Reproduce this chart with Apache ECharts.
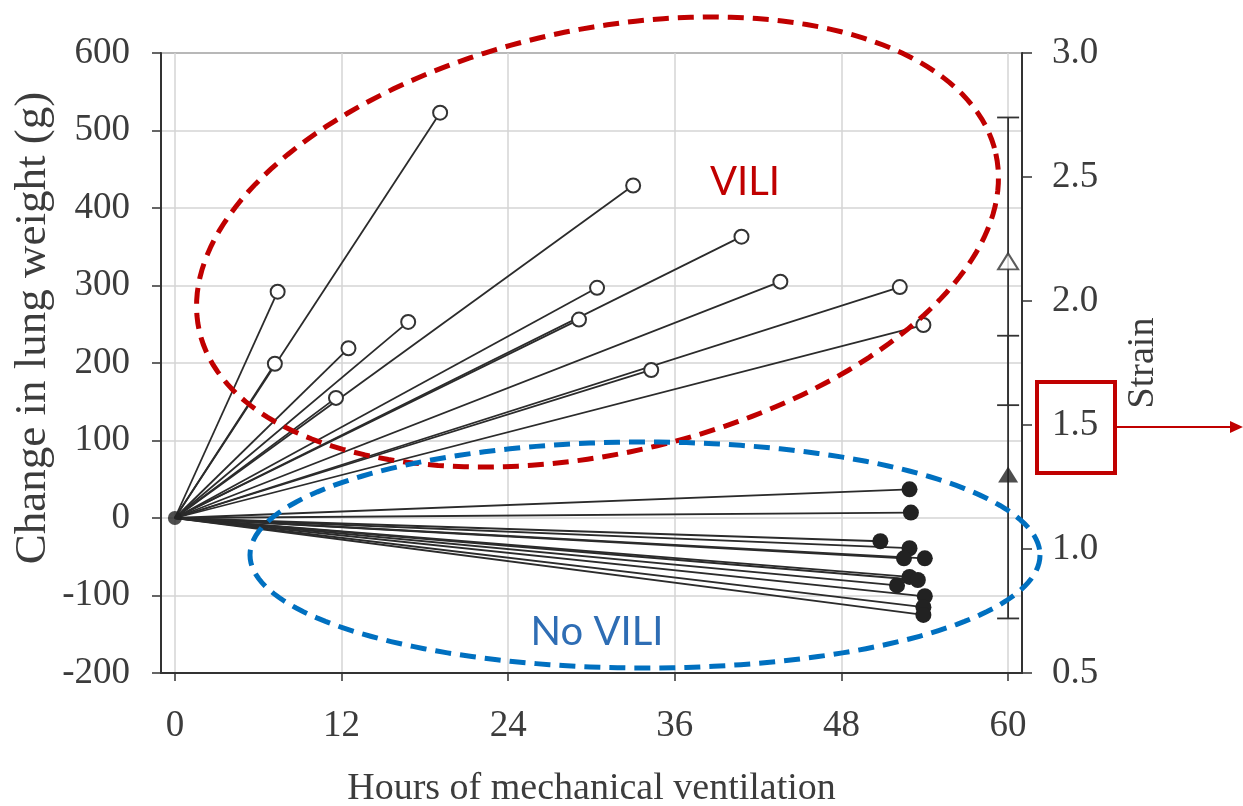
<!DOCTYPE html>
<html>
<head>
<meta charset="utf-8">
<script src="https://cdn.jsdelivr.net/npm/echarts@6/dist/echarts.min.js"></script>
<style>
  html, body { margin: 0; padding: 0; background: #fff; }
  #main { width: 1243px; height: 806px; }
</style>
</head>
<body>
<div id="main"></div>
<script>
// x ticks (hours)
const hourTicks = [0, 12, 24, 36, 48, 60];

// VILI animals: hours ventilated, change in lung weight (g)
const viliHours = [7.4, 7.2, 19.1, 12.5, 11.6, 16.8, 33.0, 30.4, 29.1, 40.8, 34.3, 43.6, 52.2, 53.9];
const viliGain = [292, 199, 523, 219, 155, 253, 429, 297, 256, 363, 191, 305, 298, 249];

// No VILI animals
const noViliHours = [52.9, 53.0, 50.8, 52.9, 52.5, 54.0, 52.9, 53.5, 52.0, 54.0, 53.9, 53.9];
const noViliGain = [37, 7, -30, -39, -52, -52, -76, -80, -87, -101, -115, -125];

// strain (right axis), mean and spread for each group
const strainGroups = ['VILI', 'No VILI'];
const strainMean = [2.16, 1.30];
const strainLow = [1.58, 0.72];
const strainHigh = [2.74, 1.86];
const strainHour = 60;

const chart = echarts.init(document.getElementById('main'), null, { renderer: 'canvas' });

const serif = 'Liberation Serif';
const axisColor = '#333';
const textColor = '#3c3c3c';

// one segment from the origin to each animal's last point
const segs = [];
viliHours.forEach((h, i) => segs.push({ coords: [[0, 0], [h, viliGain[i]]] }));
noViliHours.forEach((h, i) => segs.push({ coords: [[0, 0], [h, noViliGain[i]]] }));

// dashed ellipses drawn as closed polygons (annotation only)
function ellipsePts(cx, cy, a, b, deg) {
  const phi = deg * Math.PI / 180;
  const pts = [];
  for (let k = 0; k < 180; k++) {
    const t = k / 180 * Math.PI * 2;
    pts.push([
      cx + a * Math.cos(t) * Math.cos(phi) - b * Math.sin(t) * Math.sin(phi),
      cy + a * Math.cos(t) * Math.sin(phi) + b * Math.sin(t) * Math.cos(phi)
    ]);
  }
  return pts;
}

const option = {
  animation: false,
  grid: {
    left: 161,
    right: 221,
    top: 53,
    bottom: 133,
    show: true,
    borderColor: axisColor,
    borderWidth: 1.5,
    containLabel: false,
    outerBoundsMode: 'none'
  },
  xAxis: {
    type: 'value',
    min: -1,
    max: 61,
    name: 'Hours of mechanical ventilation',
    nameLocation: 'middle',
    nameGap: 97,
    nameTextStyle: { fontFamily: serif, fontSize: 38, color: textColor },
    axisLine: { onZero: false, lineStyle: { color: axisColor, width: 2 } },
    axisTick: { show: true, customValues: hourTicks, length: 8, inside: false, lineStyle: { color: axisColor, width: 1.5 } },
    axisLabel: { customValues: hourTicks, margin: 35, fontFamily: serif, fontSize: 37, color: textColor },
    splitLine: { show: true, lineStyle: { color: '#d4d4d4', width: 1.5 } }
  },
  yAxis: [{
    type: 'value',
    min: -200,
    max: 600,
    interval: 100,
    position: 'left',
    axisLine: { show: true, onZero: false, lineStyle: { color: axisColor, width: 2 } },
    axisTick: { show: true, length: 9, lineStyle: { color: axisColor, width: 1.5 } },
    axisLabel: { margin: 31, fontFamily: serif, fontSize: 37, color: textColor },
    splitLine: { show: true, lineStyle: { color: '#d4d4d4', width: 1.5 } }
  }, {
    type: 'value',
    min: 0.5,
    max: 3.0,
    interval: 0.5,
    position: 'right',
    name: 'Strain',
    nameLocation: 'middle',
    nameRotate: 90,
    nameGap: 102,
    nameTextStyle: { fontFamily: serif, fontSize: 38, color: textColor },
    axisLine: { show: true, onZero: false, lineStyle: { color: axisColor, width: 2 } },
    axisTick: { show: true, length: 10, lineStyle: { color: axisColor, width: 1.5 } },
    axisLabel: { margin: 30, fontFamily: serif, fontSize: 37, color: textColor, formatter: v => v.toFixed(1) },
    splitLine: { show: false }
  }],
  series: [{
    type: 'lines',
    coordinateSystem: 'cartesian2d',
    data: segs,
    lineStyle: { color: '#2b2b2b', width: 1.8, opacity: 1 },
    z: 2
  }, {
    type: 'scatter',
    name: 'VILI',
    data: viliHours.map((h, i) => [h, viliGain[i]]),
    symbol: 'circle',
    symbolSize: 14,
    itemStyle: { color: '#fff', borderColor: '#333', borderWidth: 2, opacity: 1 },
    z: 4
  }, {
    type: 'scatter',
    name: 'No VILI',
    data: noViliHours.map((h, i) => [h, noViliGain[i]]),
    symbol: 'circle',
    symbolSize: 16,
    itemStyle: { color: '#222', opacity: 1 },
    z: 4
  }, {
    type: 'scatter',
    data: [[0, 0]],
    symbolSize: 14,
    itemStyle: { color: '#222' },
    z: 4
  }, {
    type: 'custom',
    yAxisIndex: 1,
    data: strainGroups.map((g, i) => [strainHour, strainLow[i], strainHigh[i]]),
    encode: { x: 0, y: [1, 2] },
    renderItem: function (params, api) {
      const x = api.value(0);
      const lo = api.coord([x, api.value(1)]);
      const hi = api.coord([x, api.value(2)]);
      const cap = 11;
      const style = { stroke: '#333', lineWidth: 1.8 };
      return {
        type: 'group',
        children: [
          { type: 'line', shape: { x1: lo[0], y1: lo[1], x2: hi[0], y2: hi[1] }, style: style },
          { type: 'line', shape: { x1: lo[0] - cap, y1: lo[1], x2: lo[0] + cap, y2: lo[1] }, style: style },
          { type: 'line', shape: { x1: hi[0] - cap, y1: hi[1], x2: hi[0] + cap, y2: hi[1] }, style: style }
        ]
      };
    },
    z: 3
  }, {
    type: 'scatter',
    yAxisIndex: 1,
    data: [[strainHour, strainMean[0]]],
    symbol: 'triangle',
    symbolSize: [20, 16],
    itemStyle: { color: '#fff', borderColor: '#333', borderWidth: 2 },
    z: 5
  }, {
    type: 'scatter',
    yAxisIndex: 1,
    data: [[strainHour, strainMean[1]]],
    symbol: 'triangle',
    symbolSize: [20, 16],
    itemStyle: { color: '#222' },
    z: 5
  }],
  graphic: [
    {
      type: 'text',
      x: 33, y: 328,
      rotation: Math.PI / 2,
      style: { text: 'Change in lung weight (g)', fontFamily: serif, fontSize: 45, fill: textColor, align: 'center', verticalAlign: 'middle' }
    },
    {
      type: 'polygon',
      shape: { points: ellipsePts(597.5, 242, 408, 212, -12.5) },
      style: { fill: 'none', stroke: '#C00000', lineWidth: 5, lineDash: [16, 9] },
      z: 10
    },
    {
      type: 'polygon',
      shape: { points: ellipsePts(645, 555, 395, 113, 0) },
      style: { fill: 'none', stroke: '#0070C0', lineWidth: 5, lineDash: [16, 9] },
      z: 10
    },
    {
      type: 'text',
      x: 745, y: 182,
      style: { text: 'VILI', fontFamily: 'Lato', fontSize: 40, fill: '#C00000', align: 'center', verticalAlign: 'middle' },
      z: 10
    },
    {
      type: 'text',
      x: 597, y: 632,
      style: { text: 'No VILI', fontFamily: 'Lato', fontSize: 40, fill: '#2E6DB4', align: 'center', verticalAlign: 'middle' },
      z: 10
    },
    {
      type: 'rect',
      shape: { x: 1037, y: 382, width: 78, height: 91 },
      style: { fill: 'none', stroke: '#C00000', lineWidth: 4 },
      z: 10
    },
    {
      type: 'line',
      shape: { x1: 1115, y1: 427, x2: 1232, y2: 427 },
      style: { stroke: '#C00000', lineWidth: 2 },
      z: 10
    },
    {
      type: 'polygon',
      shape: { points: [[1243, 427], [1230, 421], [1230, 433]] },
      style: { fill: '#C00000' },
      z: 10
    }
  ]
};

chart.setOption(option);
</script>
</body>
</html>
